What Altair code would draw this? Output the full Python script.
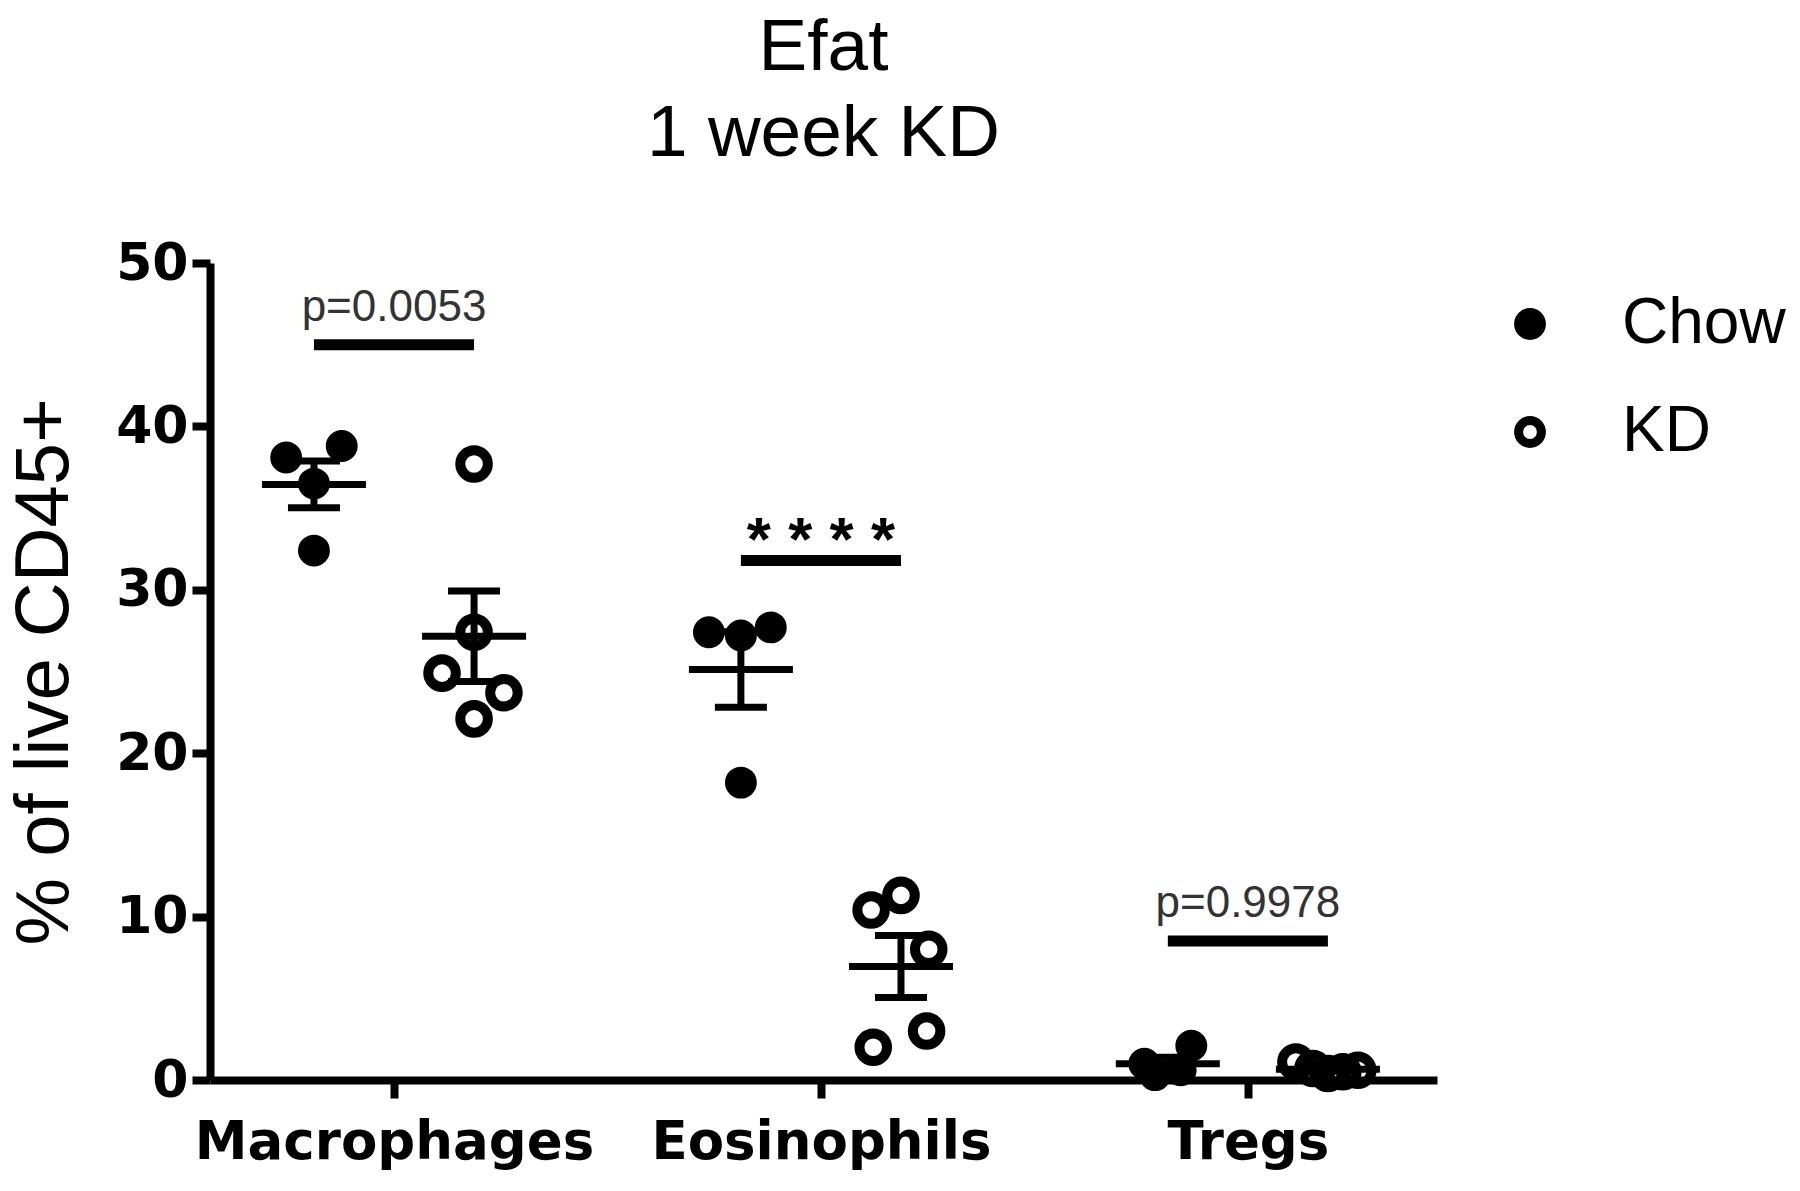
import altair as alt
import pandas as pd

categories = ["Macrophages", "Eosinophils", "Tregs"]
groups = ["Chow", "KD"]

mac_chow = [38.1, 38.8, 36.5, 32.4]
mac_chow_jit = [-0.065, 0.065, 0.0, 0.0]
mac_kd = [37.7, 27.4, 24.9, 23.7, 22.1]
mac_kd_jit = [0.0, 0.0, -0.075, 0.07, 0.0]

eos_chow = [27.4, 27.2, 27.7, 18.2]
eos_chow_jit = [-0.075, 0.0, 0.07, 0.0]
eos_kd = [11.3, 10.4, 8.0, 3.0, 2.0]
eos_kd_jit = [0.0, -0.07, 0.065, 0.06, -0.065]

treg_chow = [1.0, 0.3, 0.6, 2.1]
treg_chow_jit = [-0.055, -0.03, 0.03, 0.055]
treg_kd = [1.1, 0.7, 0.4, 0.5, 0.6]
treg_kd_jit = [-0.075, -0.035, 0.0, 0.035, 0.07]

sig_cats = ["Macrophages", "Eosinophils", "Tregs"]
sig_y = [45.0, 31.8, 8.5]
sig_labels = ["p=0.0053", "* * * *", "p=0.9978"]

y_ticks = [0, 10, 20, 30, 40, 50]

series = [
    ("Macrophages", "Chow", mac_chow, mac_chow_jit),
    ("Macrophages", "KD", mac_kd, mac_kd_jit),
    ("Eosinophils", "Chow", eos_chow, eos_chow_jit),
    ("Eosinophils", "KD", eos_kd, eos_kd_jit),
    ("Tregs", "Chow", treg_chow, treg_chow_jit),
    ("Tregs", "KD", treg_kd, treg_kd_jit),
]
rows = []
for cat, grp, vals, jits in series:
    for v, j in zip(vals, jits):
        rows.append({"cat": cat, "catidx": categories.index(cat) + 1,
                     "group": grp, "value": v, "jitter": j})
df = pd.DataFrame(rows)

sig_df = pd.DataFrame({
    "cat": sig_cats,
    "catidx": [categories.index(c) + 1 for c in sig_cats],
    "y": sig_y,
    "label": sig_labels,
})

GOFF = 0.1875
xscale = alt.Scale(domain=[0.569, 3.443], nice=False, zero=False)
yscale = alt.Scale(domain=[0, 50], nice=False)

label_expr = "['', 'Macrophages', 'Eosinophils', 'Tregs'][datum.value]"

x_axis = alt.Axis(values=[1, 2, 3], labelExpr=label_expr, title=None,
                  labelFont="DejaVu Sans", labelFontWeight="bold", labelFontSize=53,
                  labelColor="black", tickSize=18, tickWidth=8, tickColor="black",
                  domainWidth=8, domainColor="black", labelPadding=18, labelLimit=0,
                  labelOverlap=False, labelFlush=False, grid=False)
y_axis = alt.Axis(values=y_ticks, title="% of live CD45+",
                  labelFont="DejaVu Sans", labelFontWeight="bold", labelFontSize=52,
                  labelColor="black", tickSize=18, tickWidth=8, tickColor="black",
                  domainWidth=8, domainColor="black", labelPadding=4,
                  titleFont="Liberation Sans", titleFontSize=76, titleFontWeight="normal",
                  titleColor="black", titlePadding=32, grid=False)

base = alt.Chart(df)

points = base.transform_calculate(
    xpos=f"datum.catidx + (datum.group == 'Chow' ? {-GOFF} : {GOFF}) + datum.jitter"
).mark_point(shape="circle", stroke="black", strokeWidth=10, opacity=1,
             filled=False).encode(
    x=alt.X("xpos:Q", scale=xscale, axis=x_axis),
    y=alt.Y("value:Q", scale=yscale, axis=y_axis),
    fill=alt.Fill("group:N", scale=alt.Scale(domain=groups, range=["black", "transparent"]),
                  legend=alt.Legend(title=None, orient="none", legendX=1288, legendY=29,
                                    labelFont="Liberation Sans", labelFontSize=64,
                                    labelColor="black", labelOffset=60, rowPadding=44,
                                    padding=0, symbolType="circle", symbolSize=520,
                                    symbolStrokeColor="black", symbolStrokeWidth=9,
                                    labelLimit=0)),
    size=alt.condition("datum.group == 'Chow'", alt.value(480), alt.value(760)),
)

agg = base.transform_aggregate(
    mean="mean(value)", sem="stderr(value)", groupby=["cat", "catidx", "group"]
).transform_calculate(
    xpos=f"datum.catidx + (datum.group == 'Chow' ? {-GOFF} : {GOFF})",
    lo="datum.mean - datum.sem",
    hi="datum.mean + datum.sem",
)

mean_line = agg.mark_tick(orient="horizontal", size=104, thickness=7, color="black", opacity=1).encode(
    x=alt.X("xpos:Q", scale=xscale), y=alt.Y("mean:Q", scale=yscale))
cap_hi = agg.mark_tick(orient="horizontal", size=52, thickness=7, color="black", opacity=1).encode(
    x=alt.X("xpos:Q", scale=xscale), y=alt.Y("hi:Q", scale=yscale))
cap_lo = agg.mark_tick(orient="horizontal", size=52, thickness=7, color="black", opacity=1).encode(
    x=alt.X("xpos:Q", scale=xscale), y=alt.Y("lo:Q", scale=yscale))
stem = agg.mark_rule(strokeWidth=7, color="black").encode(
    x=alt.X("xpos:Q", scale=xscale), y=alt.Y("lo:Q", scale=yscale), y2="hi:Q")

sig = alt.Chart(sig_df).transform_calculate(
    x1=f"datum.catidx - {GOFF}", x2=f"datum.catidx + {GOFF}"
)
sig_bar = sig.mark_rule(strokeWidth=11, color="black", strokeCap="butt").encode(
    x=alt.X("x1:Q", scale=xscale), x2="x2:Q", y=alt.Y("y:Q", scale=yscale))
sig_p = sig.transform_filter("datum.label != '* * * *'").mark_text(
    font="Liberation Sans", fontSize=44, color="#333333", baseline="alphabetic", dy=-24
).encode(x=alt.X("catidx:Q", scale=xscale), y=alt.Y("y:Q", scale=yscale), text="label:N")
sig_star = sig.transform_filter("datum.label == '* * * *'").mark_text(
    font="Liberation Sans", fontWeight="bold", fontSize=62, color="black", baseline="alphabetic", dy=0
).encode(x=alt.X("catidx:Q", scale=xscale), y=alt.Y("y:Q", scale=yscale), text="label:N")

chart = alt.layer(
    stem, cap_hi, cap_lo, mean_line, points, sig_bar, sig_p, sig_star
).properties(
    width=1227, height=817,
    title=alt.Title(["Efat", "1 week KD"], font="Liberation Sans", fontSize=73,
                    fontWeight="normal", color="black", anchor="middle", frame="group",
                    lineHeight=86, offset=66),
    autosize=alt.AutoSizeParams(type="none"),
    padding={"left": 202, "top": 255, "right": 355, "bottom": 111},
    background="white",
).configure_view(stroke=None, strokeWidth=0)

chart.save("out.html", embed_options={"renderer": "svg", "actions": False})
